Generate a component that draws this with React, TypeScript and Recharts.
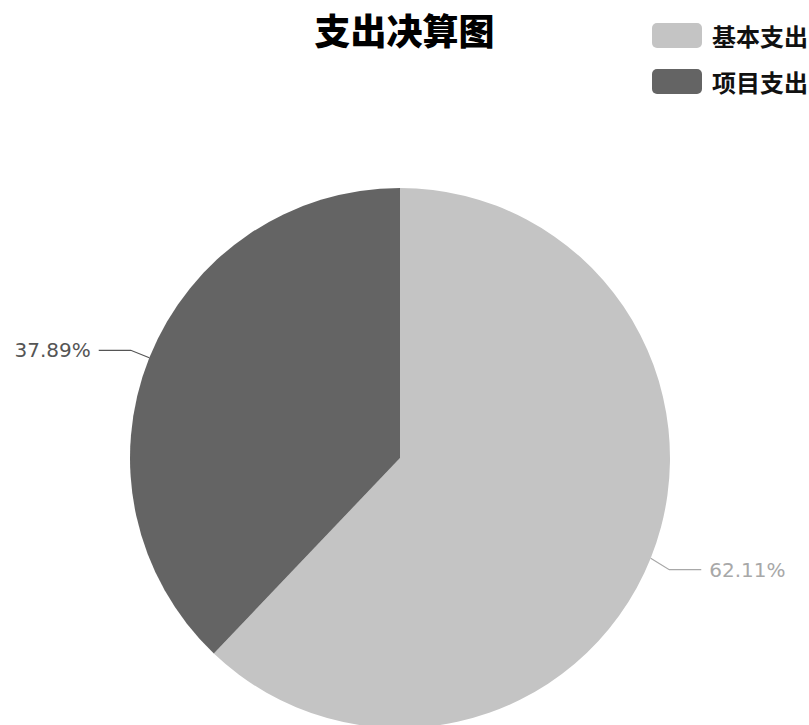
import React from "react";
import { PieChart, Pie, Cell, Legend } from "recharts";

const categories = ["基本支出", "项目支出"];
const values = [62.11, 37.89];
const colors = ["#c4c4c4", "#646464"];
const labelColors = ["#a8a8a8", "#555555"];
const title = "支出决算图";

const data = categories.map((name, i) => ({ name, value: values[i] }));

const RAD = Math.PI / 180;

const renderLabel = (props: any) => {
  const { cx, cy, midAngle, outerRadius, index, value } = props;
  const cos = Math.cos(-midAngle * RAD);
  const sin = Math.sin(-midAngle * RAD);
  const sx = cx + outerRadius * cos;
  const sy = cy + outerRadius * sin;
  const mx = cx + (outerRadius + 20) * cos;
  const my = cy + (outerRadius + 20) * sin + (cos >= 0 ? 4 : 0);
  const ex = mx + (cos >= 0 ? 1 : -1) * 32;
  const ey = my;
  const anchor = cos >= 0 ? "start" : "end";
  const c = labelColors[index];
  return (
    <g>
      <path d={`M${sx},${sy}L${mx},${my}L${ex},${ey}`} stroke={c} fill="none" strokeWidth={1.2} />
      <text
        x={ex + (cos >= 0 ? 8 : -8)}
        y={ey}
        textAnchor={anchor}
        dominantBaseline="central"
        fill={c}
        fontSize={20}
        fontFamily="DejaVu Sans, sans-serif"
      >
        {value.toFixed(2)}%
      </text>
    </g>
  );
};

const renderLegend = (props: any) => {
  const { payload } = props;
  return (
    <div style={{ position: "relative" }}>
      {payload.map((p: any, i: number) => (
        <div key={i} style={{ display: "flex", alignItems: "center", height: 46, whiteSpace: "nowrap" }}>
          <div style={{ width: 50, height: 25, borderRadius: 5, background: colors[i], marginRight: 10 }} />
          <span style={{ fontSize: 24, fontWeight: 700, color: "#111", fontFamily: "Noto Sans CJK SC, sans-serif" }}>
            {categories[i]}
          </span>
        </div>
      ))}
    </div>
  );
};

export default function App() {
  return (
    <div style={{ position: "absolute", left: 0, top: 0, width: 809, height: 725, background: "#fff", overflow: "hidden" }}>
      <div
        style={{
          position: "absolute",
          left: 0,
          top: 6,
          width: 809,
          textAlign: "center",
          fontSize: 36,
          fontWeight: 900,
          lineHeight: "46px",
          color: "#000",
          fontFamily: "Noto Sans CJK SC, sans-serif",
        }}
      >
        {title}
      </div>
      <PieChart width={809} height={725} margin={{ top: 0, right: 0, bottom: 0, left: 0 }}>
        <Legend
          layout="vertical"
          verticalAlign="top"
          align="right"
          content={renderLegend}
          wrapperStyle={{ left: 652, top: 12, width: 200 }}
        />
        <Pie
          data={data}
          dataKey="value"
          nameKey="name"
          cx={400}
          cy={458}
          outerRadius={270}
          startAngle={90}
          endAngle={-270}
          stroke="none"
          label={renderLabel}
          labelLine={false}
          isAnimationActive={false}
        >
          {data.map((d, i) => (
            <Cell key={d.name} fill={colors[i]} />
          ))}
        </Pie>
      </PieChart>
    </div>
  );
}
